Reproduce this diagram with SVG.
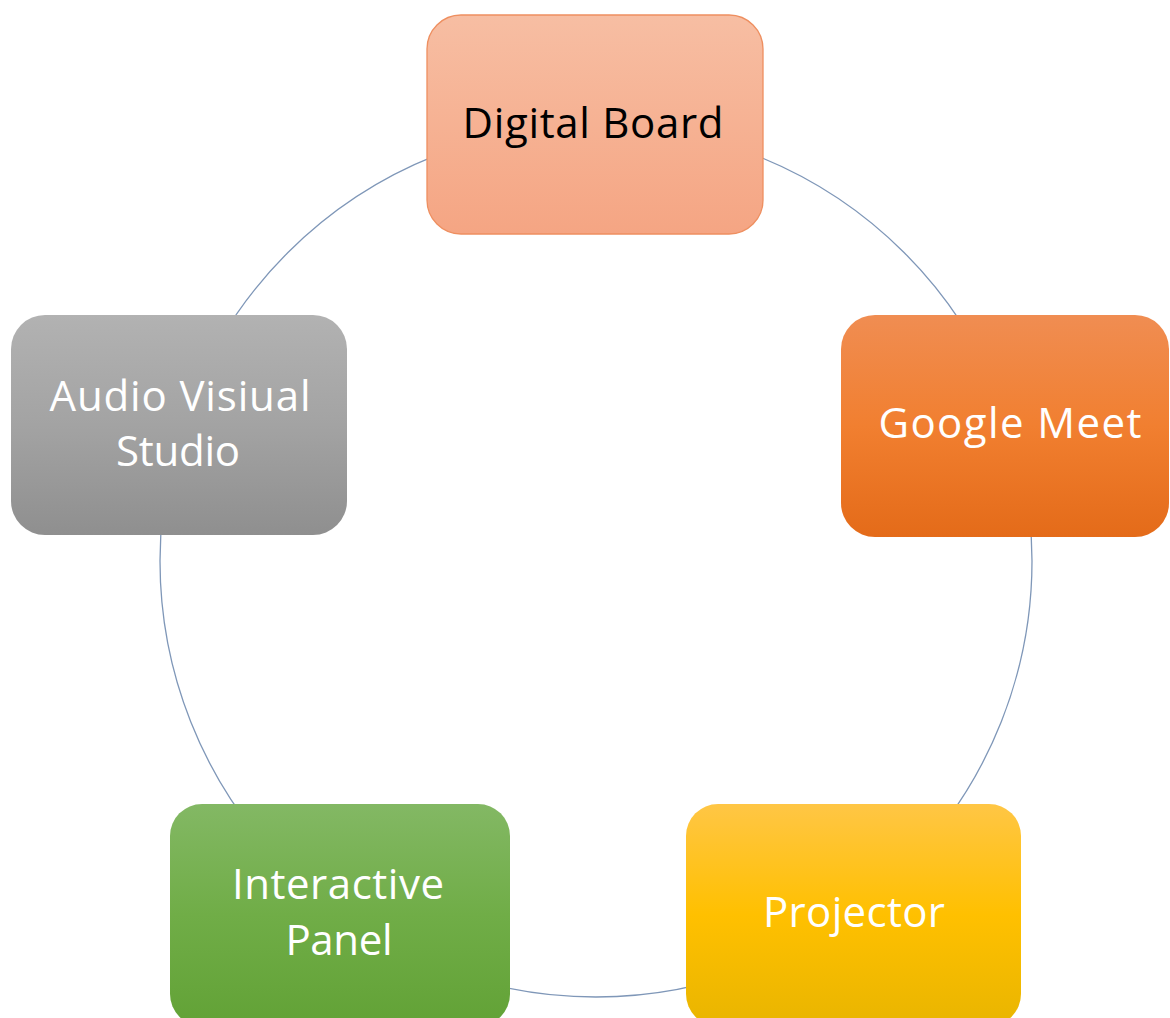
<svg xmlns="http://www.w3.org/2000/svg" width="1170" height="1018" viewBox="0 0 1170 1018">
<style>
.lbl{font-family:"Open Sans","Liberation Sans",sans-serif;font-size:42px;text-anchor:middle}
.w{fill:#ffffff}
.k{fill:#000000}
.ring{fill:none;stroke:#7F97B8;stroke-width:1.3}
</style>
<defs>
<linearGradient id="gDB" x1="0" y1="0" x2="0" y2="1"><stop offset="0" stop-color="#F7BEA3"/><stop offset="1" stop-color="#F5A583"/></linearGradient>
<linearGradient id="gGM" x1="0" y1="0" x2="0" y2="1"><stop offset="0" stop-color="#F08D52"/><stop offset="0.5" stop-color="#F17F30"/><stop offset="1" stop-color="#E46B19"/></linearGradient>
<linearGradient id="gAV" x1="0" y1="0" x2="0" y2="1"><stop offset="0" stop-color="#B2B2B2"/><stop offset="0.5" stop-color="#A3A3A3"/><stop offset="1" stop-color="#8F8F8F"/></linearGradient>
<linearGradient id="gIP" x1="0" y1="0" x2="0" y2="1"><stop offset="0" stop-color="#83B864"/><stop offset="0.5" stop-color="#70AD47"/><stop offset="1" stop-color="#62A236"/></linearGradient>
<linearGradient id="gPR" x1="0" y1="0" x2="0" y2="1"><stop offset="0" stop-color="#FFC645"/><stop offset="0.5" stop-color="#FFC000"/><stop offset="1" stop-color="#E9B500"/></linearGradient>
</defs>
<g id="connectors">
<circle class="ring" cx="596" cy="561" r="436"/>
</g>
<g id="digital-board">
<rect x="427" y="15" width="336" height="219" rx="34" fill="url(#gDB)" stroke="#EE8F60" stroke-width="1.3"/>
<text class="lbl k" x="593" y="138" textLength="261" lengthAdjust="spacing">Digital Board</text>
</g>
<g id="google-meet">
<rect x="841" y="315" width="328" height="222" rx="34" fill="url(#gGM)"/>
<text class="lbl w" x="1010" y="438" textLength="263" lengthAdjust="spacing">Google Meet</text>
</g>
<g id="audio-visual-studio">
<rect x="11" y="315" width="336" height="220" rx="34" fill="url(#gAV)"/>
<text class="lbl w" x="180" y="411" textLength="261" lengthAdjust="spacing">Audio Visiual</text>
<text class="lbl w" x="178" y="466" textLength="124" lengthAdjust="spacing">Studio</text>
</g>
<g id="interactive-panel">
<rect x="170" y="804" width="340" height="222" rx="32" fill="url(#gIP)"/>
<text class="lbl w" x="338" y="899" textLength="212" lengthAdjust="spacing">Interactive</text>
<text class="lbl w" x="339" y="955" textLength="107" lengthAdjust="spacing">Panel</text>
</g>
<g id="projector">
<rect x="686" y="804" width="335" height="222" rx="32" fill="url(#gPR)"/>
<text class="lbl w" x="854" y="927" textLength="182" lengthAdjust="spacing">Projector</text>
</g>
</svg>
